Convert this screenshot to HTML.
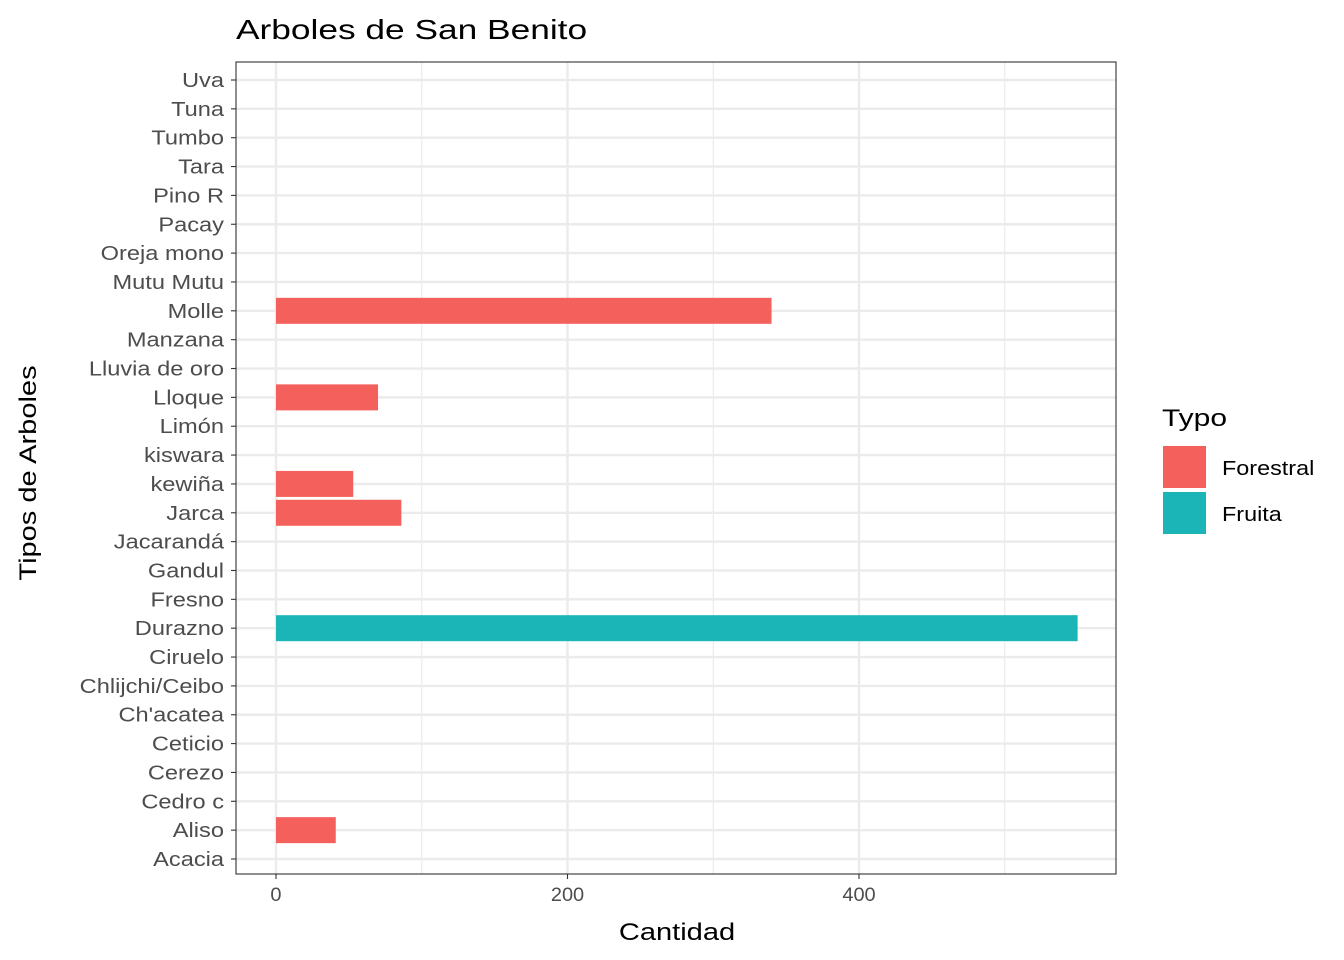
<!DOCTYPE html>
<html><head><meta charset="utf-8"><style>
html,body{margin:0;padding:0;background:#fff;}
svg{display:block;font-family:"Liberation Sans",Arial,sans-serif;}
</style></head><body>
<svg id="chart" width="1344" height="960" viewBox="0 0 1344 960">
<text class="st" data-k="1.26" x="236" y="39" font-size="28" fill="#000">Arboles de San Benito</text>
<g id="grid"></g>
<g id="bars"></g>
<rect x="236" y="62" width="880" height="812" fill="none" stroke="#333" stroke-width="1.1"/>
<g id="yticks"></g>
<g id="xticks"></g>
<text class="st" data-k="1.21" x="677" y="940" font-size="24" text-anchor="middle" fill="#000">Cantidad</text>
<text class="st" data-k="1.21" transform="translate(36,473) rotate(-90)" font-size="24" text-anchor="middle" fill="#000">Tipos de Arboles</text>
<g id="legend">
<text class="st" data-k="1.25" x="1162" y="426" font-size="24" fill="#000">Typo</text>
</g>
</svg>
<script>
const categories=["Acacia","Aliso","Cedro c","Cerezo","Ceticio","Ch'acatea","Chlijchi/Ceibo","Ciruelo","Durazno","Fresno","Gandul","Jacarandá","Jarca","kewiña","kiswara","Limón","Lloque","Lluvia de oro","Manzana","Molle","Mutu Mutu","Oreja mono","Pacay","Pino R","Tara","Tumbo","Tuna","Uva"];
const values=[0,41,0,0,0,0,0,0,550,0,0,0,86,53,0,0,70,0,0,340,0,0,0,0,0,0,0,0];
const types=["Forestral","Forestral","Forestral","Fruita","Forestral","Forestral","Forestral","Fruita","Fruita","Forestral","Forestral","Forestral","Forestral","Forestral","Forestral","Fruita","Forestral","Forestral","Fruita","Forestral","Forestral","Forestral","Fruita","Forestral","Forestral","Fruita","Fruita","Fruita"];
const xTicks=[0,200,400];
const xMinor=[100,300,500];
const legendLabels=["Forestral","Fruita"];
const colors={"Forestral":"#F4605B","Fruita":"#1BB5B8"};
const NS="http://www.w3.org/2000/svg";
const x=v=>276+v*1.4575;
const y=i=>859-i*(779/27);
function mk(tag,attrs,parent){const e=document.createElementNS(NS,tag);for(const k in attrs)e.setAttribute(k,attrs[k]);parent.appendChild(e);return e;}
const grid=document.getElementById('grid');
xMinor.forEach(v=>{const l=mk('line',{x1:x(v),x2:x(v),y1:62,y2:874,stroke:'#ebebeb','stroke-width':1.2},grid);

});
xTicks.forEach(v=>{const l=mk('line',{x1:x(v),x2:x(v),y1:62,y2:874,stroke:'#ebebeb','stroke-width':2.4},grid);

});
categories.forEach((c,i)=>{const l=mk('line',{x1:236,x2:1116,y1:y(i),y2:y(i),stroke:'#ebebeb','stroke-width':2.4},grid);

});
const bars=document.getElementById('bars');
categories.forEach((c,i)=>{if(values[i]<=0)return;
const r=mk('rect',{x:x(0),y:y(i)-13,width:x(values[i])-x(0),height:26,fill:colors[types[i]]},bars);

});
const yt=document.getElementById('yticks');
categories.forEach((c,i)=>{mk('line',{x1:231,x2:236,y1:y(i),y2:y(i),stroke:'#333','stroke-width':1.1},yt);
const t=mk('text',{x:224,y:y(i)+7,'font-size':20,'text-anchor':'end',fill:'#4d4d4d',class:'st','data-k':1.18},yt);t.textContent=c;

});
const xt=document.getElementById('xticks');
xTicks.forEach(v=>{mk('line',{x1:x(v),x2:x(v),y1:874,y2:879,stroke:'#333','stroke-width':1.1},xt);
const t=mk('text',{x:x(v),y:901,'font-size':19,'text-anchor':'middle',fill:'#4d4d4d',class:'st','data-k':1.05},xt);t.textContent=v;

});
const lg=document.getElementById('legend');
legendLabels.forEach((L,k)=>{const r=mk('rect',{x:1163,y:446+k*46,width:43,height:42,fill:colors[L]},lg);


const t=mk('text',{x:1222,y:475+k*46,'font-size':20,fill:'#000',class:'st','data-k':1.17},lg);t.textContent=L;

});
document.querySelectorAll('text.st').forEach(t=>{const w=t.getComputedTextLength();const k=parseFloat(t.getAttribute('data-k'));
t.setAttribute('textLength',(w*k).toFixed(1));t.setAttribute('lengthAdjust','spacingAndGlyphs');});
</script>
</body></html>
